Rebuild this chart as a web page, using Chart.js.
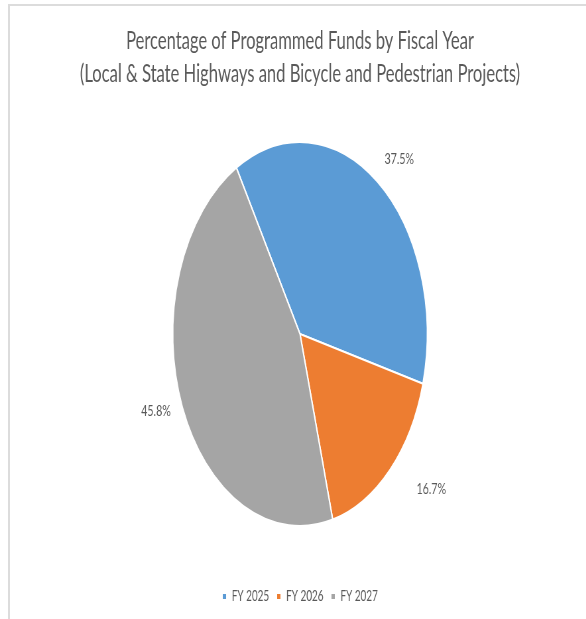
<!DOCTYPE html>
<html>
<head>
<meta charset="utf-8">
<script src="https://cdn.jsdelivr.net/npm/chart.js@4.4.1/dist/chart.umd.min.js"></script>
<style>
  html, body { margin: 0; padding: 0; background: #ffffff; overflow: hidden; }
  #page { position: relative; width: 586px; height: 619px; overflow: hidden; background: #fff; }
  #frame { position: absolute; left: 8px; top: 4px; right: 0; bottom: 0;
           border-top: 2px solid #dcdcdc; border-left: 2px solid #dcdcdc; }
  #stretch { position: absolute; left: 0; top: 0; width: 905px; height: 619px;
             transform: scaleX(0.663); transform-origin: 0 0; }
</style>
</head>
<body>
<div id="page">
  <div id="frame"></div>
  <div id="stretch"><canvas id="c" width="905" height="619"></canvas></div>
</div>
<script>
// ---- data ----
const categories = ['FY 2025', 'FY 2026', 'FY 2027'];
const percentValues = [37.5, 16.7, 45.8];
const titleLines = ['Percentage of Programmed Funds by Fiscal Year',
                    '(Local & State Highways and Bicycle and Pedestrian Projects)'];
const sliceColors = ['#5B9BD5', '#ED7D31', '#A5A5A5'];

const FONT = 'Lato, "Open Sans", sans-serif';
const TEXT = '#595959';

const outsideLabels = {
  id: 'outsideLabels',
  afterDatasetsDraw(chart, args, opts) {
    const ctx = chart.ctx;
    const meta = chart.getDatasetMeta(0);
    const data = chart.data.datasets[0].data;
    ctx.save();
    ctx.fillStyle = opts.color;
    ctx.font = opts.font;
    ctx.textAlign = 'center';
    ctx.textBaseline = 'middle';
    meta.data.forEach((arc, i) => {
      const p = arc.getProps(['x', 'y', 'startAngle', 'endAngle', 'outerRadius'], true);
      const mid = (p.startAngle + p.endAngle) / 2 + (opts.angleShift[i] || 0) * Math.PI / 180;
      const r = p.outerRadius * opts.radiusFactor[i];
      ctx.fillText(data[i].toFixed(1) + '%', p.x + Math.cos(mid) * r, p.y + Math.sin(mid) * r);
    });
    ctx.restore();
  }
};

new Chart(document.getElementById('c'), {
  type: 'pie',
  data: {
    labels: categories,
    datasets: [{
      data: percentValues,
      backgroundColor: sliceColors,
      borderColor: '#ffffff',
      borderWidth: 2,
      hoverOffset: 0
    }]
  },
  plugins: [outsideLabels],
  options: {
    responsive: false,
    animation: false,
    events: [],
    rotation: -30,
    radius: '79%',
    layout: { padding: { top: 0, bottom: 5, left: 0, right: 0 } },
    plugins: {
      title: {
        display: true,
        text: titleLines,
        color: TEXT,
        font: { family: FONT, size: 25, weight: 'normal', lineHeight: 1.32 },
        padding: { top: 24, bottom: 0 }
      },
      legend: {
        display: true,
        position: 'bottom',
        labels: {
          color: TEXT,
          font: { family: FONT, size: 15 },
          boxWidth: 7,
          boxHeight: 7,
          padding: 11
        }
      },
      tooltip: { enabled: false },
      outsideLabels: {
        color: TEXT,
        font: '16px ' + FONT,
        radiusFactor: [1.2, 1.31, 1.2],
        angleShift: [3, -7, 3]
      }
    }
  }
});
</script>
</body>
</html>
